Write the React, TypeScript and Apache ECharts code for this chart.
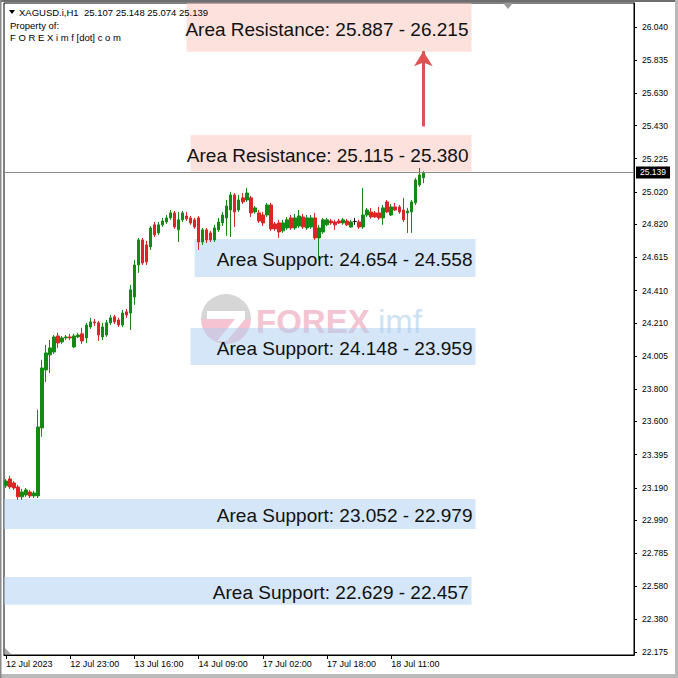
import { useEffect, useRef } from 'react';
import * as echarts from 'echarts';

// ---------- data (XAGUSD H1) ----------
const opens = [
  23.202, 23.245, 23.220, 23.195, 23.134, 23.146, 23.164, 23.140, 23.140, 23.560,
  23.919, 24.012, 24.030, 24.129, 24.092, 24.117, 24.123, 24.061, 24.123, 24.142,
  24.117, 24.185, 24.216, 24.210, 24.123, 24.135, 24.210, 24.247, 24.228, 24.197,
  24.278, 24.271, 24.370, 24.568, 24.723, 24.692, 24.680, 24.816, 24.766, 24.816,
  24.834, 24.859, 24.890, 24.785, 24.847, 24.871, 24.859, 24.847, 24.859, 24.710,
  24.785, 24.766, 24.723, 24.785, 24.828, 24.859, 24.908, 25.001, 24.908, 24.983,
  24.970, 24.983, 24.896, 24.890, 24.877, 24.877, 24.939, 24.822, 24.828, 24.779,
  24.797, 24.859, 24.797, 24.809, 24.865, 24.797, 24.803, 24.859, 24.735, 24.772,
  24.816, 24.840, 24.834, 24.840, 24.828, 24.840, 24.803, 24.837, 24.834, 24.803,
  24.877, 24.896, 24.890, 24.890, 24.859, 24.958, 24.877, 24.927, 24.927, 24.908,
  24.890, 24.896, 24.952, 25.063, 25.107,
];
const closes = [
  23.232, 23.195, 23.189, 23.134, 23.164, 23.177, 23.140, 23.158, 23.566, 23.931,
  24.024, 24.055, 24.123, 24.086, 24.117, 24.123, 24.117, 24.129, 24.135, 24.098,
  24.197, 24.216, 24.210, 24.135, 24.185, 24.210, 24.241, 24.216, 24.197, 24.271,
  24.259, 24.414, 24.568, 24.723, 24.581, 24.587, 24.797, 24.754, 24.816, 24.840,
  24.859, 24.890, 24.803, 24.847, 24.890, 24.853, 24.828, 24.803, 24.710, 24.785,
  24.723, 24.723, 24.797, 24.834, 24.877, 24.933, 25.001, 24.896, 24.970, 24.958,
  25.013, 24.890, 24.921, 24.840, 24.828, 24.939, 24.791, 24.791, 24.772, 24.828,
  24.847, 24.797, 24.859, 24.871, 24.803, 24.859, 24.859, 24.735, 24.797, 24.847,
  24.847, 24.828, 24.816, 24.828, 24.847, 24.816, 24.834, 24.837, 24.803, 24.877,
  24.908, 24.865, 24.865, 24.859, 24.921, 24.896, 24.927, 24.908, 24.896, 24.847,
  24.902, 24.958, 25.094, 25.125, 25.139,
];
const lows = [
  23.189, 23.183, 23.177, 23.115, 23.115, 23.134, 23.127, 23.127, 23.127, 23.505,
  23.845, 23.900, 24.018, 24.055, 24.080, 24.104, 24.104, 24.055, 24.117, 24.080,
  24.086, 24.172, 24.191, 24.098, 24.104, 24.123, 24.197, 24.203, 24.185, 24.185,
  24.241, 24.166, 24.321, 24.519, 24.568, 24.568, 24.661, 24.741, 24.754, 24.803,
  24.822, 24.847, 24.791, 24.710, 24.834, 24.840, 24.816, 24.791, 24.661, 24.692,
  24.704, 24.710, 24.710, 24.772, 24.809, 24.748, 24.741, 24.803, 24.896, 24.945,
  24.958, 24.865, 24.884, 24.828, 24.809, 24.865, 24.779, 24.779, 24.735, 24.766,
  24.785, 24.785, 24.785, 24.797, 24.791, 24.785, 24.791, 24.723, 24.599, 24.760,
  24.809, 24.816, 24.785, 24.822, 24.816, 24.809, 24.797, 24.816, 24.791, 24.791,
  24.865, 24.853, 24.859, 24.847, 24.816, 24.890, 24.871, 24.902, 24.884, 24.834,
  24.766, 24.766, 24.939, 25.051, 25.074,
];
const highs = [
  23.245, 23.263, 23.232, 23.208, 23.183, 23.189, 23.177, 23.171, 23.672, 23.981,
  24.074, 24.104, 24.135, 24.148, 24.129, 24.135, 24.142, 24.142, 24.148, 24.179,
  24.210, 24.241, 24.234, 24.222, 24.210, 24.228, 24.259, 24.259, 24.241, 24.290,
  24.296, 24.445, 24.599, 24.735, 24.735, 24.717, 24.809, 24.834, 24.834, 24.859,
  24.877, 24.908, 24.902, 24.896, 24.902, 24.896, 24.871, 24.859, 24.871, 24.797,
  24.797, 24.779, 24.816, 24.859, 24.896, 24.970, 25.020, 25.013, 25.001, 25.013,
  25.044, 24.995, 24.933, 24.908, 24.896, 24.952, 24.952, 24.834, 24.847, 24.847,
  24.865, 24.877, 24.884, 24.908, 24.884, 24.877, 24.877, 24.890, 24.816, 24.859,
  24.859, 24.853, 24.847, 24.853, 24.859, 24.853, 24.847, 24.859, 24.847, 25.044,
  24.921, 24.921, 24.902, 24.927, 24.939, 24.970, 24.945, 24.952, 24.939, 24.983,
  24.921, 24.970, 25.106, 25.168, 25.148,
];

const symbolName = 'XAGUSD.i,H1';
const xTickLabels = ['12 Jul 2023', '12 Jul 23:00', '13 Jul 16:00', '14 Jul 09:00', '17 Jul 02:00', '17 Jul 18:00', '18 Jul 11:00'];
const barsPerXTick = 16;
const slotCount = 157; // bars + empty right shift
const yTicks = [22.175, 22.380, 22.580, 22.785, 22.990, 23.190, 23.395, 23.600, 23.800, 24.005,
  24.210, 24.410, 24.615, 24.820, 25.020, 25.225, 25.430, 25.630, 25.835, 26.040];
const yMin = 22.156;
const yMax = 26.188;
const bidPrice = 25.139;

// zones: label values, and the drawn box bounds (price / bar slot)
const zoneKinds = ['Resistance', 'Resistance', 'Support', 'Support', 'Support', 'Support'];
const zoneFrom = [25.887, 25.115, 24.654, 24.148, 23.052, 22.629];
const zoneTo = [26.215, 25.380, 24.558, 23.959, 22.979, 22.457];
const boxBottom = [25.887, 25.146, 24.494, 23.950, 22.935, 22.466];
const boxTop = [26.215, 25.372, 24.729, 24.178, 23.121, 22.639];
const boxStart: (number | undefined)[] = [45, 46, 47, 46, undefined, undefined];
const boxEnd = [116, 116, 117, 117, 117, 116];

// target arrow
const arrowSlot = 104;
const arrowFrom = 25.425;
const arrowTo = 25.89;

const FONT = '"Liberation Sans", Arial, sans-serif';
const UP = '#138a13';
const DOWN = '#dc2525';
const PINK = 'rgba(251, 196, 188, 0.5)';
const BLUE = 'rgba(172, 207, 239, 0.52)';

export default function App() {
  const ref = useRef<HTMLDivElement>(null);
  useEffect(() => {
    const chart = echarts.init(ref.current!, null, { renderer: 'svg' });
    const categories = Array.from({ length: slotCount }, (_, i) => String(i));
    const isTick = (i: number) => i % barsPerXTick === 0 && i / barsPerXTick < xTickLabels.length;
    const candles = opens.map((o, i) => [o, closes[i], lows[i], highs[i]]);
    const last = opens.length - 1;
    const header = `${symbolName}  ${opens[last].toFixed(3)} ${highs[last].toFixed(3)} ${lows[last].toFixed(3)} ${closes[last].toFixed(3)}`;

    const areaData = zoneKinds.map((k, i) => {
      const first: any = {
        yAxis: boxBottom[i],
        itemStyle: { color: k === 'Resistance' ? PINK : BLUE },
        label: {
          show: true,
          position: 'insideRight',
          distance: 3,
          offset: [0, 2],
          formatter: `Area ${k}: ${zoneFrom[i].toFixed(3)} - ${zoneTo[i].toFixed(3)}`,
          fontSize: 19,
          color: '#111',
          fontFamily: FONT,
        },
      };
      if (boxStart[i] !== undefined) first.xAxis = boxStart[i];
      return [first, { xAxis: boxEnd[i], yAxis: boxTop[i] }];
    });

    const hdrText = (x: number, y: number, text: string) => ({
      type: 'text', x, y, z: 100, silent: true,
      style: { text, fontSize: 9.5, fontFamily: FONT, fill: '#000', verticalAlign: 'middle' },
    });

    const option: any = {
      animation: false,
      backgroundColor: '#fff',
      grid: {
        left: 4, right: 44, top: 3, bottom: 23,
        show: true, borderColor: '#000', borderWidth: 1, backgroundColor: 'transparent',
        outerBoundsMode: 'none',
      },
      xAxis: {
        type: 'category',
        data: categories,
        boundaryGap: true,
        axisLine: { show: true, lineStyle: { color: '#000', width: 1 } },
        axisTick: {
          show: true, alignWithLabel: true, length: 4,
          interval: (i: number) => isTick(i),
          lineStyle: { color: '#000' },
        },
        axisLabel: {
          interval: (i: number) => isTick(i),
          formatter: (_v: string, i: number) => (isTick(i) ? xTickLabels[i / barsPerXTick] : ''),
          align: 'left', margin: 4, fontSize: 9, color: '#000', fontFamily: FONT,
        },
        splitLine: { show: false },
      },
      yAxis: {
        type: 'value',
        position: 'right',
        min: yMin,
        max: yMax,
        scale: true,
        axisLine: { show: true, onZero: false, lineStyle: { color: '#000', width: 1 } },
        axisTick: { show: true, customValues: yTicks, length: 3, lineStyle: { color: '#000' } },
        axisLabel: {
          customValues: yTicks,
          formatter: (v: number) => v.toFixed(3),
          margin: 8, fontSize: 8.5, color: '#000', fontFamily: FONT,
        },
        splitLine: { show: false },
      },
      series: [
        {
          type: 'candlestick',
          z: 3,
          data: candles,
          barWidth: 3,
          clip: true,
          itemStyle: {
            color: UP, color0: DOWN, borderColor: UP, borderColor0: DOWN,
            borderColorDoji: '#111', borderWidth: 1,
          },
          markArea: {
            silent: true,
            z: 2,
            data: areaData,
          },
          markLine: {
            silent: true,
            z: 5,
            symbol: ['none', 'none'],
            animation: false,
            data: [
              {
                yAxis: bidPrice,
                symbol: 'none',
                lineStyle: { color: '#8a8a8a', width: 1, type: 'solid' },
                label: {
                  show: true, position: 'end', distance: 2,
                  formatter: bidPrice.toFixed(3),
                  backgroundColor: '#000', color: '#fff',
                  padding: [2, 4, 1, 4], fontSize: 8.5, fontFamily: FONT,
                },
              },
              [
                { coord: [arrowSlot, arrowFrom], symbol: 'none', lineStyle: { color: '#e05252', width: 3, type: 'solid' }, label: { show: false } },
                { coord: [arrowSlot, arrowTo], symbol: 'arrow', symbolSize: [14, 15] },
              ],
            ],
          },
        },
      ],
      graphic: [
        // window frame
        { type: 'rect', z: 100, shape: { x: 0, y: 0, width: 678, height: 2 }, style: { fill: '#6e6e6e' }, silent: true },
        { type: 'rect', z: 100, shape: { x: 675, y: 0, width: 3, height: 678 }, style: { fill: '#b9b9b9' }, silent: true },
        { type: 'rect', z: 100, shape: { x: 0, y: 674, width: 678, height: 4 }, style: { fill: '#b9b9b9' }, silent: true },
        { type: 'rect', z: 100, shape: { x: 0, y: 0, width: 1.5, height: 678 }, style: { fill: '#8a8a8a' }, silent: true },
        // chart shift markers
        { type: 'polygon', z: 100, shape: { points: [[503, 3], [513, 3], [508, 9]] }, style: { fill: '#9a9a9a' }, silent: true },
        { type: 'polygon', z: 100, shape: { points: [[5, 648], [5, 654], [11, 654]] }, style: { fill: '#a8a8a8' }, silent: true },
        // header
        { type: 'polygon', z: 100, shape: { points: [[9, 10], [15, 10], [12, 14]] }, style: { fill: '#000' }, silent: true },
        hdrText(19, 12, header),
        hdrText(10, 25, 'Property of:'),
        hdrText(10, 37, 'F O R E X i m f [dot] c o m'),
        // watermark (behind zones and candles)
        { type: 'sector', z: 1, silent: true, shape: { cx: 226, cy: 319, r: 25, startAngle: Math.PI, endAngle: Math.PI * 2 }, style: { fill: '#d6d6d6' } },
        { type: 'sector', z: 1, silent: true, shape: { cx: 226, cy: 319, r: 25, startAngle: 0, endAngle: Math.PI }, style: { fill: '#f6c3d2' } },
        { type: 'rect', z: 1, silent: true, shape: { x: 207, y: 311, width: 38, height: 8 }, style: { fill: '#fff' } },
        { type: 'polygon', z: 1, silent: true, shape: { points: [[235, 319], [245, 319], [227, 341], [217, 341]] }, style: { fill: '#fff' } },
        { type: 'text', z: 1, silent: true, x: 256, y: 321, style: { text: 'FOREX', fontSize: 33, fontWeight: 'bold', fontFamily: FONT, verticalAlign: 'middle', fill: '#f3c4d1' } },
        { type: 'text', z: 1, silent: true, x: 378, y: 321, style: { text: 'imf', fontSize: 33, fontFamily: FONT, verticalAlign: 'middle', fill: '#cfe2f2' } },
      ],
    };
    chart.setOption(option);
    return () => chart.dispose();
  }, []);
  return <div ref={ref} style={{ position: 'fixed', left: 0, top: 0, width: 678, height: 678, background: '#fff' }} />;
}
